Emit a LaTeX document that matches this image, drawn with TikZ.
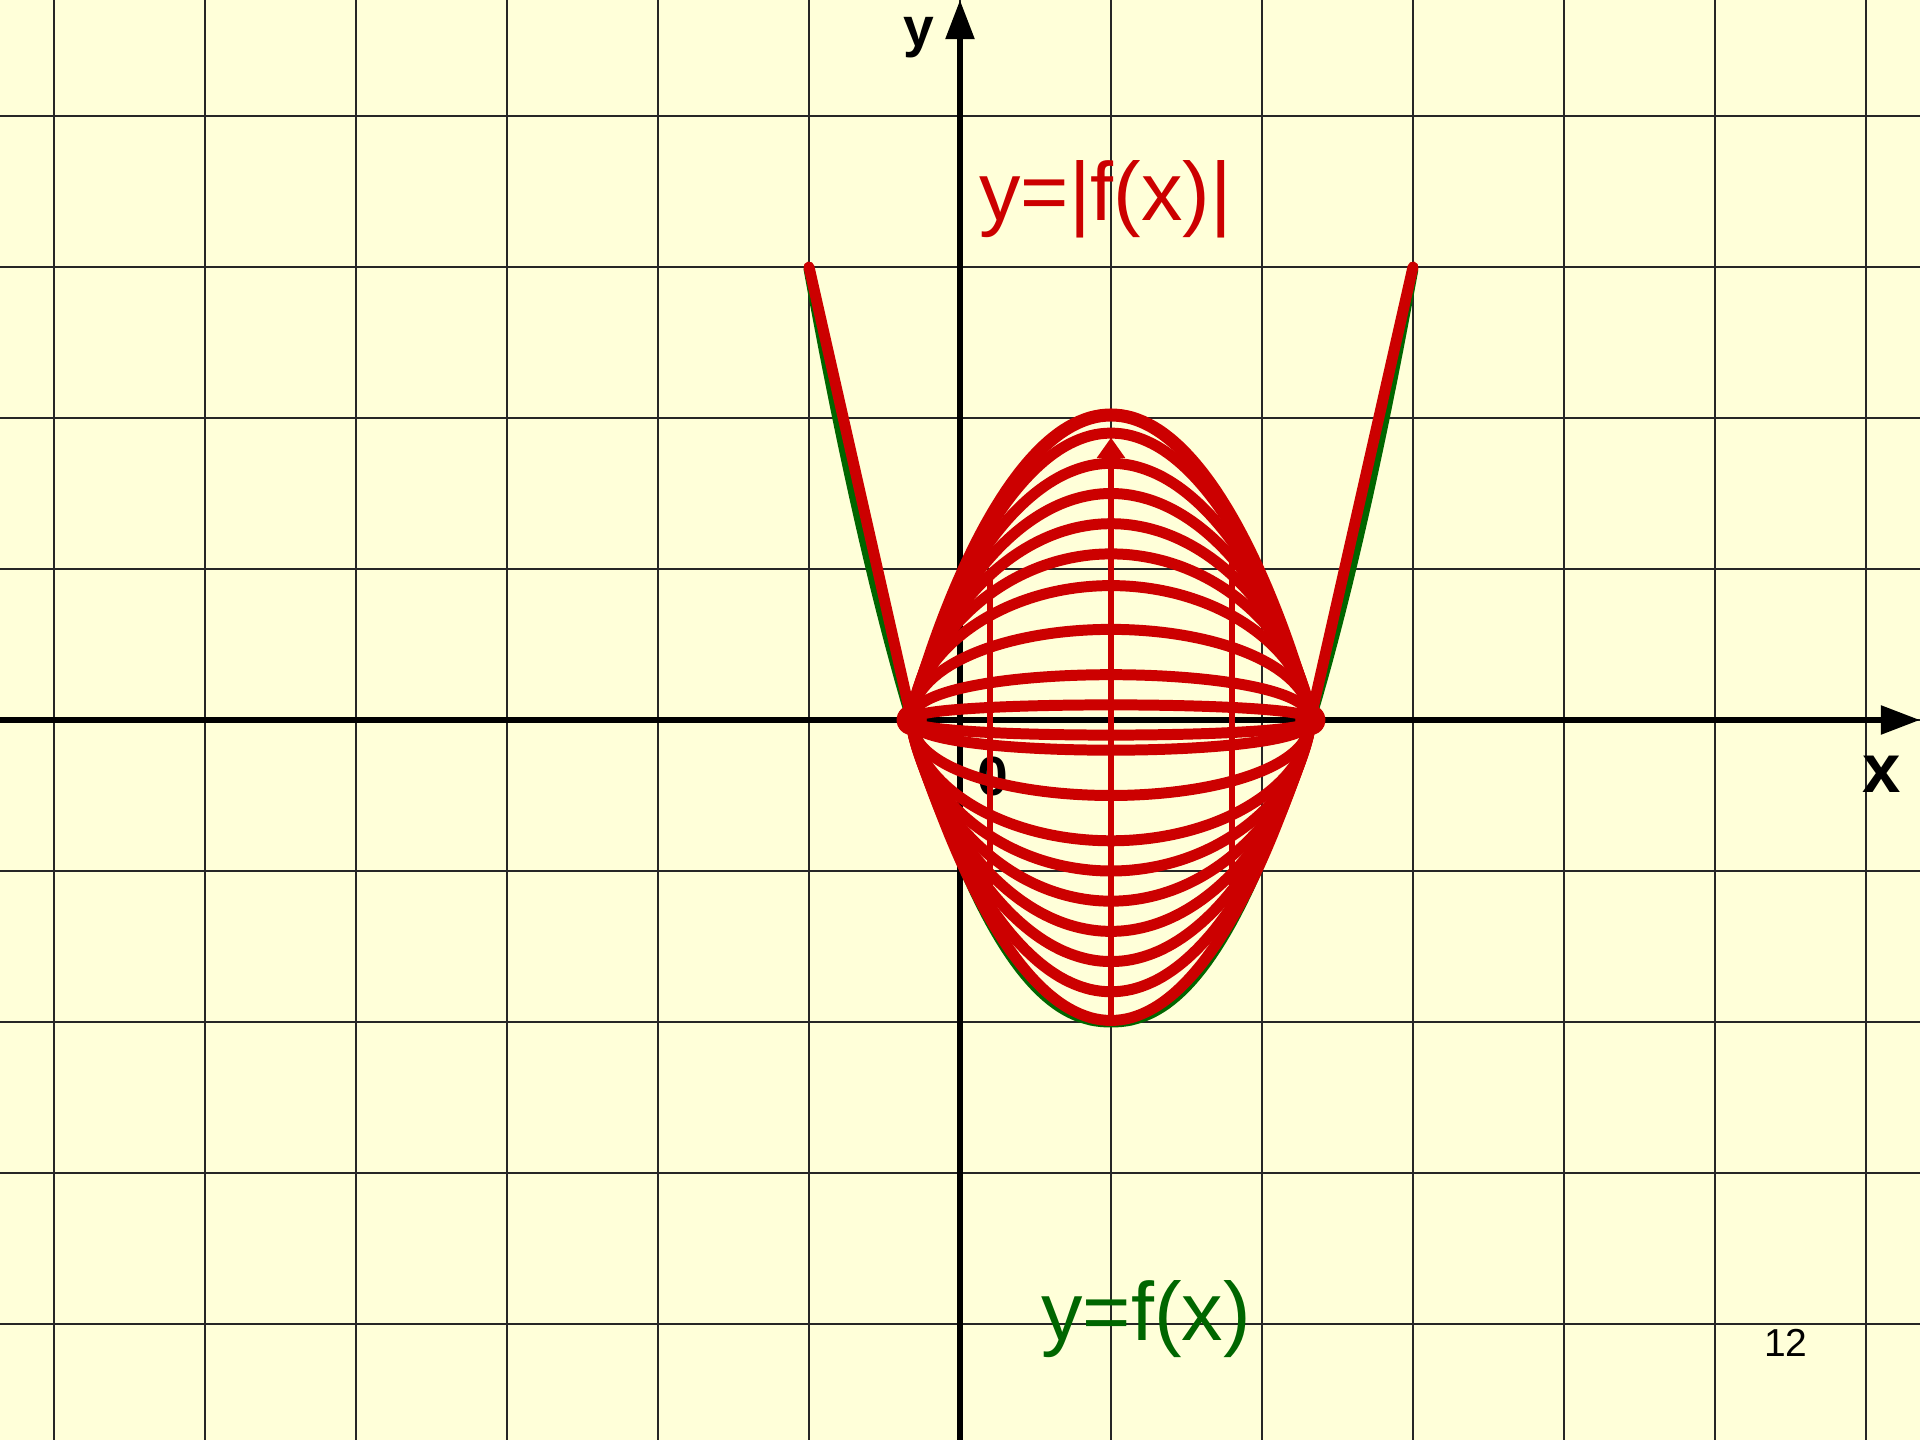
\documentclass[tikz,border=0pt]{standalone}
\usepackage{fontspec}
\setmainfont{Liberation Sans}
\usetikzlibrary{arrows.meta}
\definecolor{bg}{RGB}{255,255,217}
\definecolor{fred}{RGB}{204,0,0}
\definecolor{fgreen}{RGB}{0,102,0}
\begin{document}
\begin{tikzpicture}[x=1cm,y=1cm,
  gridline/.style={line width=0.38pt, black!85},
  axisline/.style={line width=1.13pt, black, -{Triangle[length=0.26cm,width=0.185cm]}},
  redcurve/.style={line width=2.07pt, fred, line cap=round, line join=round},
  redouter/.style={line width=2.45pt, fred, line cap=round, line join=round},
  greencurve/.style={line width=2.07pt, fgreen, line cap=round, line join=round},
  redthin/.style={line width=1.04pt, fred},
  rootdot/.style={circle, fill=fred, minimum size=0.2cm, inner sep=0pt},
  bigred/.style={text=fred, font=\fontsize{15.6}{18}\selectfont, anchor=base},
  biggreen/.style={text=fgreen, font=\fontsize{15.6}{18}\selectfont, anchor=base},
  axlabel/.style={font=\bfseries\fontsize{10.4}{12}\selectfont, anchor=base, inner sep=0pt}
]
\fill[bg] (-6.3576,-4.7682) rectangle (6.3576,4.7682);
\useasboundingbox (-6.3576,-4.7682) rectangle (6.3576,4.7682);
% grid
\foreach \i in {-6,...,6} \draw[gridline] (\i,-4.7682) -- (\i,4.7682);
\foreach \j in {-4,...,4} \draw[gridline] (-6.3576,\j) -- (6.3576,\j);
% axes
\coordinate (xs) at (-6.3576,0);
\coordinate (xe) at (6.3576,0);
\coordinate (ys) at (0,-4.7682);
\coordinate (ye) at (0,4.7682);
\draw[axisline] (xs) -- (xe);
\draw[axisline] (ys) -- (ye);
\node[axlabel] (lab0) at (0.215,-0.497) {0};
\node[axlabel] (laby) at (-0.272,4.457) {y};
\node[axlabel, font=\bfseries\fontsize{13}{15}\selectfont] (labx) at (6.103,-0.483) {x};
% green curve y=f(x)
\draw[greencurve] plot[domain=-2:2, samples=121] ({1+\x},{-2*(1-pow(abs(\x)/1.32+0.00001,2.2))});
% red |f(x)| outer branches
\coordinate (L3) at (-1,3);
\coordinate (rootL) at (-0.32,0);
\coordinate (rootR) at (2.32,0);
\coordinate (R3) at (3,3);
\draw[redcurve] (L3) -- (rootL);
\draw[redcurve] (rootR) -- (R3);
% family of red curves (frames of the reflection)
\foreach \h/\e in {1.9/1.72, 1.7/1.58, 1.5/1.45, 1.3/1.32, 1.1/1.2, 0.89/1.1, 0.6/0.96, 0.3/0.86, 0.1/0.81,
                   -0.1/0.81, -0.2/0.83, -0.5/0.92, -0.8/1.05, -1.0/1.15, -1.2/1.26, -1.4/1.39, -1.6/1.52, -1.8/1.65, -1.99/1.8}
  \draw[redcurve] plot[domain=-90:90, samples=121] ({1+1.32*sin(\x)},{\h*pow(abs(cos(\x))+0.00001,\e)});
\draw[redouter] plot[domain=-90:90, samples=121] ({1+1.32*sin(\x)},{2.02*pow(abs(cos(\x))+0.00001,1.8)});
% red vertical lines
\coordinate (vb) at (1,-2);
\coordinate (vt) at (1,1.87);
\draw[redthin, -{Triangle[length=0.135cm,width=0.18cm]}] (vb) -- (vt);
\coordinate (v1b) at (0.2,-1.35);
\coordinate (v1t) at (0.2,0.95);
\coordinate (v2b) at (1.8,-1.3);
\coordinate (v2t) at (1.8,1.1);
\draw[redthin] (v1b) -- (v1t);
\draw[redthin] (v2b) -- (v2t);
% root dots
\node[rootdot] (dL) at (rootL) {};
\node[rootdot] (dR) at (rootR) {};
% labels
\node[bigred] (labmod) at (0.964,3.305) {y=|f(x)|};
\node[biggreen] (labf) at (1.232,-4.106) {y=f(x)};
\node[anchor=base, font=\fontsize{7.35}{9}\selectfont] (num) at (5.470,-4.212) {12};
\end{tikzpicture}
\end{document}
